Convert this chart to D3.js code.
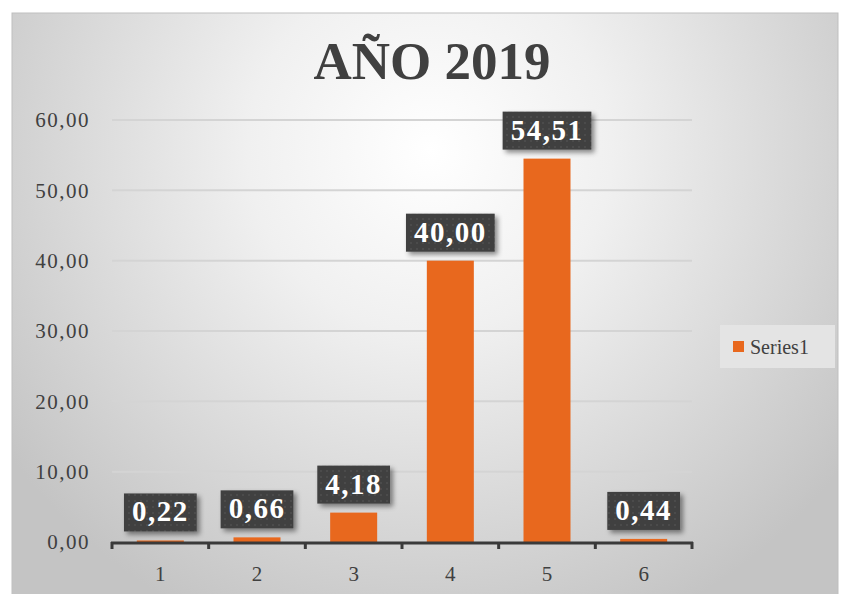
<!DOCTYPE html>
<html><head><meta charset="utf-8">
<script src="https://cdn.jsdelivr.net/npm/d3@7"></script>
<style>html,body{margin:0;padding:0;background:#fff;}svg{display:block;}</style>
</head><body>
<script>
const categories = ["1","2","3","4","5","6"];
const values = [0.22, 0.66, 4.18, 40.00, 54.51, 0.44];
const yTicks = [0, 10, 20, 30, 40, 50, 60];
const seriesName = "Series1";
const title = "AÑO 2019";

const W = 841, H = 594;
const SERIF = "Liberation Serif, Times New Roman, serif";
const fmt = v => d3.format(".2f")(v).replace(".", ",");
const svg = d3.select("body").append("svg").attr("width", W).attr("height", H);
const defs = svg.append("defs");

const rg = defs.append("radialGradient").attr("id","bg").attr("gradientUnits","userSpaceOnUse")
  .attr("cx",430).attr("cy",150).attr("r",520);
rg.append("stop").attr("offset","0").attr("stop-color","#ffffff");
rg.append("stop").attr("offset","0.35").attr("stop-color","#f0f0f0");
rg.append("stop").attr("offset","1").attr("stop-color","#c4c4c4");

const pat = defs.append("pattern").attr("id","dots").attr("patternUnits","userSpaceOnUse")
  .attr("width",6).attr("height",6);
pat.append("rect").attr("width",6).attr("height",6).attr("fill","#3f3f3f");
pat.append("circle").attr("cx",3).attr("cy",3).attr("r",0.8).attr("fill","#5a5a5a");

const flt = defs.append("filter").attr("id","shadow").attr("x","-20%").attr("y","-20%").attr("width","150%").attr("height","160%");
flt.append("feDropShadow").attr("dx",3).attr("dy",3).attr("stdDeviation",2.5).attr("flood-color","#000").attr("flood-opacity",0.45);

// chart area
svg.append("rect").attr("x",12).attr("y",13).attr("width",826).attr("height",600)
  .attr("fill","url(#bg)").attr("stroke","#bfbfbf").attr("stroke-width",1);

const m = {left:112, right:692, top:120, bottom:542};
const x = d3.scaleBand().domain(categories).range([m.left, m.right]).paddingInner(0).paddingOuter(0);
const y = d3.scaleLinear().domain([0,60]).range([m.bottom, m.top]);

// title
svg.append("text").attr("x",432).attr("y",79).attr("text-anchor","middle")
  .attr("font-family",SERIF).attr("font-weight","bold").attr("font-size",53)
  .attr("fill","#404040").text(title);

// gridlines
svg.append("g").selectAll("line").data(yTicks.filter(d=>d>0)).join("line")
  .attr("x1",m.left).attr("x2",m.right).attr("y1",d=>y(d)).attr("y2",d=>y(d))
  .attr("stroke","#d4d4d4").attr("stroke-width",2);

// y axis labels
const yAxis = d3.axisLeft(y).tickValues(yTicks).tickSize(0).tickPadding(22).tickFormat(fmt);
const ya = svg.append("g").attr("transform",`translate(${m.left},0)`).call(yAxis);
ya.select(".domain").remove();
ya.selectAll("text").attr("font-family",SERIF).attr("font-size",21).attr("letter-spacing",1.5).attr("fill","#404040");

// bars
const bw = 47;
svg.append("g").selectAll("rect").data(values).join("rect")
  .attr("x",(d,i)=>x(categories[i]) + x.bandwidth()/2 - bw/2)
  .attr("width",bw)
  .attr("y",d=>y(d)).attr("height",d=>y(0)-y(d))
  .attr("fill","#e8681e");

// x axis
const xAxis = d3.axisBottom(x).tickSize(0).tickPadding(24);
const xa = svg.append("g").attr("transform",`translate(0,${m.bottom})`).call(xAxis);
xa.select(".domain").remove();
xa.selectAll("text").attr("font-family",SERIF).attr("font-size",21).attr("fill","#404040");
svg.append("line").attr("x1",m.left-1).attr("x2",m.right+1).attr("y1",m.bottom+1).attr("y2",m.bottom+1)
  .attr("stroke","#3a3a3a").attr("stroke-width",3);
const bounds = categories.map(c=>x(c)).concat([m.right]);
svg.append("g").selectAll("line").data(bounds).join("line")
  .attr("x1",d=>d).attr("x2",d=>d).attr("y1",m.bottom).attr("y2",m.bottom+7)
  .attr("stroke","#3a3a3a").attr("stroke-width",3);

// data labels
const lg = svg.append("g");
values.forEach((v,i)=>{
  const cx = x(categories[i]) + x.bandwidth()/2;
  const g = lg.append("g");
  const t = g.append("text").attr("x",cx).attr("y",y(v)-19)
    .attr("text-anchor","middle").attr("font-family",SERIF).attr("font-weight","bold")
    .attr("font-size",29).attr("letter-spacing",1.5).attr("fill","#ffffff").text(fmt(v));
  const bb = t.node().getBBox();
  const bwid = bb.width + 16, bh = 38;
  g.insert("rect","text").attr("x",cx - bwid/2).attr("y",y(v)-9-bh).attr("width",bwid).attr("height",bh)
    .attr("fill","url(#dots)").attr("filter","url(#shadow)");
});

// legend
const leg = svg.append("g");
leg.append("rect").attr("x",720).attr("y",325).attr("width",115).attr("height",43).attr("fill","#e4e4e4");
leg.append("rect").attr("x",733).attr("y",341).attr("width",11).attr("height",11).attr("fill","#e8681e");
leg.append("text").attr("x",750).attr("y",354).attr("font-family",SERIF).attr("font-size",20)
  .attr("fill","#404040").text(seriesName);
</script>
</body></html>
